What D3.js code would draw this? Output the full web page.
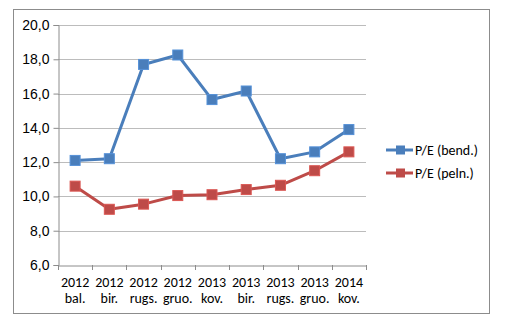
<!DOCTYPE html>
<html><head><meta charset="utf-8">
<script src="https://cdn.jsdelivr.net/npm/d3@7"></script>
<style>body{margin:0;background:#fff;} svg{display:block;font-family:Calibri,Carlito,"Liberation Sans",Arial,sans-serif;}</style>
</head><body><svg id="c" width="511" height="322"></svg>
<script>
const years = ["2012","2012","2012","2012","2013","2013","2013","2013","2014"];
const periods = ["bal.","bir.","rugs.","gruo.","kov.","bir.","rugs.","gruo.","kov."];
const bend = [12.1,12.2,17.7,18.25,15.65,16.15,12.2,12.6,13.9];
const peln = [10.6,9.25,9.55,10.05,10.1,10.4,10.65,11.5,12.6];
const yTicks = [6,8,10,12,14,16,18,20];
const seriesNames = ["P/E (bend.)","P/E (peln.)"];
const colors = ["#4A7EBB","#BE4B48"];

const svg = d3.select("#c");
svg.append("rect").attr("x",13.5).attr("y",9.5).attr("width",476).attr("height",304)
  .attr("fill","#fff").attr("stroke","#8c8c8c").attr("stroke-width",1);

const x0=58, x1=366, yTop=25, yBot=265;
const idx = d3.range(years.length);
const x = d3.scaleBand().domain(idx).range([x0,x1]);
const y = d3.scaleLinear().domain([6,20]).range([yBot,yTop]);

// gridlines
svg.append("g").selectAll("line").data(yTicks.filter(d=>d>6)).join("line")
  .attr("x1",x0).attr("x2",x1).attr("y1",d=>Math.round(y(d))+0.5).attr("y2",d=>Math.round(y(d))+0.5)
  .attr("stroke","#bcbcbc").attr("stroke-width",1);

// y axis
const ya = svg.append("g").attr("transform",`translate(${x0+0.5},0)`)
  .call(d3.axisLeft(y).tickValues(yTicks).tickFormat(d=>d3.format(".1f")(d).replace(".",",")).tickSize(5).tickPadding(4));
ya.select(".domain").attr("stroke","#8c8c8c");
ya.selectAll(".tick line").attr("stroke","#8c8c8c");
ya.selectAll("text").attr("font-size",14).attr("fill","#000");

// x axis
const xa = svg.append("g").attr("transform",`translate(0,${yBot+0.5})`)
  .call(d3.axisBottom(x).tickSize(0).tickFormat(""));
xa.select(".domain").attr("stroke","#8c8c8c");
svg.append("g").selectAll("line").data(d3.range(years.length+1)).join("line")
  .attr("x1",i=>Math.round(x0+i*x.step())+0.5).attr("x2",i=>Math.round(x0+i*x.step())+0.5)
  .attr("y1",yBot).attr("y2",yBot+5).attr("stroke","#8c8c8c");
const lab = svg.append("g").selectAll("text").data(idx).join("text")
  .attr("x",i=>x(i)+x.bandwidth()/2).attr("text-anchor","middle").attr("font-size",14).attr("fill","#000");
lab.append("tspan").attr("x",i=>x(i)+x.bandwidth()/2).attr("y",287).text(i=>years[i]);
lab.append("tspan").attr("x",i=>x(i)+x.bandwidth()/2).attr("y",303).text(i=>periods[i]);

// series
const line = d3.line().x((d,i)=>x(i)+x.bandwidth()/2).y(d=>y(d));
[bend,peln].forEach((s,k)=>{
  svg.append("path").datum(s).attr("d",line).attr("fill","none")
    .attr("stroke",colors[k]).attr("stroke-width",3).attr("stroke-linejoin","round");
  svg.append("g").selectAll("rect").data(s).join("rect")
    .attr("x",(d,i)=>x(i)+x.bandwidth()/2-5).attr("y",d=>y(d)-5)
    .attr("width",10).attr("height",10).attr("fill",colors[k])
    .attr("stroke",d3.color(colors[k]).brighter(0.4)).attr("stroke-width",1);
});

// legend
const ly=[150,173];
seriesNames.forEach((n,k)=>{
  const g=svg.append("g");
  g.append("line").attr("x1",386).attr("x2",413).attr("y1",ly[k]).attr("y2",ly[k]).attr("stroke",colors[k]).attr("stroke-width",3);
  g.append("rect").attr("x",396).attr("y",ly[k]-4.5).attr("width",9).attr("height",9).attr("fill",colors[k]);
  g.append("text").attr("x",415).attr("y",ly[k]+5).attr("font-size",14).attr("fill","#000").text(n);
});
</script></body></html>
